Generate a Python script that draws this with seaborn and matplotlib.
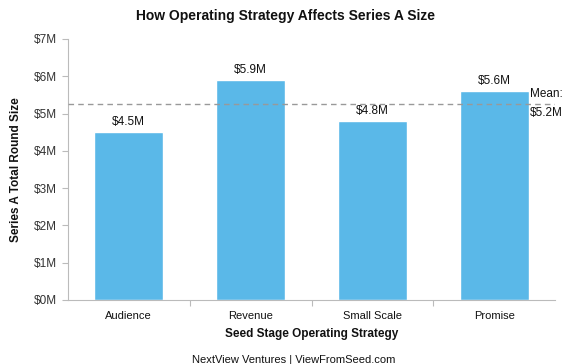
import pandas as pd
import matplotlib
matplotlib.use("Agg")
import matplotlib.pyplot as plt
import seaborn as sns

# Data
strategies = ["Audience", "Revenue", "Small Scale", "Promise"]
round_size = [4.5, 5.9, 4.8, 5.6]  # $M
mean_value = 5.25  # dashed line position
mean_label = "$5.2M"
y_ticks = [0, 1, 2, 3, 4, 5, 6, 7]

bar_color = "#5AB8E8"

sns.set_style("white")
plt.rcParams["font.family"] = ["Liberation Sans", "DejaVu Sans"]

df = pd.DataFrame({"strategy": strategies, "size": round_size})

fig = plt.figure(figsize=(5.7, 3.64), dpi=100)
ax = fig.add_axes([0.119, 0.176, 0.855, 0.717])

sns.barplot(data=df, x="strategy", y="size", color=bar_color, width=0.57,
            saturation=1, ax=ax)

# value labels on top of bars
for i, v in enumerate(round_size):
    ax.annotate(f"${v:.1f}M", (i, v), xytext=(0, 3), textcoords="offset points",
                ha="center", va="bottom", fontsize=8.5, color="#111111")

# mean line
ax.axhline(mean_value, color="#999999", linestyle=(0, (4, 3)), linewidth=1, zorder=3)
ax.text(3.29, mean_value + 0.12, "Mean:", ha="left", va="bottom", fontsize=8.5,
        color="#111111", clip_on=False)
ax.text(3.29, mean_value - 0.08, mean_label, ha="left", va="top", fontsize=8.5,
        color="#111111", clip_on=False)

ax.set_xlim(-0.5, 3.5)
ax.set_ylim(0, 7)
ax.set_yticks(y_ticks)
ax.set_yticklabels([f"${t}M" for t in y_ticks])

# x ticks at category boundaries, labels centered
ax.set_xticks([0.5, 1.5, 2.5])
ax.set_xticklabels([])
ax.set_xticks(range(len(strategies)), minor=True)
ax.set_xticklabels(strategies, minor=True)
ax.tick_params(axis="x", which="major", direction="out", length=4, color="#bbbbbb", bottom=True)
ax.tick_params(axis="x", which="minor", length=0, labelsize=8, labelcolor="#111111", pad=8)
ax.tick_params(axis="y", direction="out", length=4, color="#bbbbbb", left=True,
               labelsize=8.5, labelcolor="#333333", pad=4)

for side in ["top", "right"]:
    ax.spines[side].set_visible(False)
for side in ["left", "bottom"]:
    ax.spines[side].set_color("#bbbbbb")
    ax.spines[side].set_linewidth(0.8)

ax.set_xlabel("Seed Stage Operating Strategy", fontsize=8.5, fontweight="bold",
              color="#111111", labelpad=5)
ax.set_ylabel("Series A Total Round Size", fontsize=8.5, fontweight="bold",
              color="#111111", labelpad=8)

fig.text(0.5, 0.955, "How Operating Strategy Affects Series A Size", ha="center",
         va="center", fontsize=10, fontweight="bold", color="#111111")
fig.text(0.516, 0.012, "NextView Ventures | ViewFromSeed.com", ha="center",
         va="center", fontsize=8, color="#111111")

fig.savefig("out.png", dpi=100)
